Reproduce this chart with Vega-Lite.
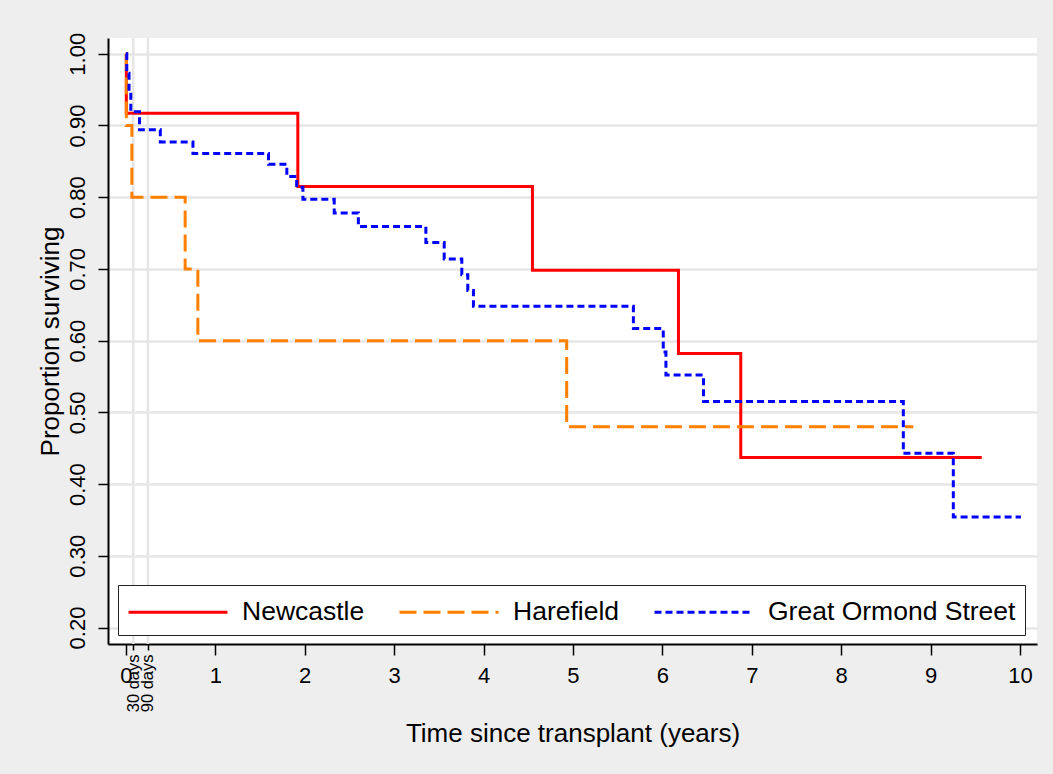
{
  "$schema": "https://vega.github.io/schema/vega-lite/v6.json",
  "autosize": {"type": "none"},
  "width": 929,
  "height": 606,
  "padding": {"left": 108, "top": 38, "right": 16, "bottom": 130},
  "background": "#eeeeee",
  "config": {
    "font": "Liberation Sans",
    "view": {"fill": "white", "stroke": null},
    "axis": {
      "domainColor": "#000000",
      "domainWidth": 2,
      "tickColor": "#000000",
      "tickWidth": 1.5,
      "labelColor": "#000000",
      "titleColor": "#000000",
      "titleFontWeight": "normal",
      "gridColor": "#e6e6e6",
      "gridWidth": 2.5
    },
    "legend": {
      "title": null,
      "orient": "none",
      "legendX": 10,
      "legendY": 547,
      "direction": "horizontal",
      "columns": 3,
      "symbolType": "M-1,0H5",
      "symbolSize": 1089,
      "symbolStrokeWidth": 3,
      "labelFontSize": 26.5,
      "labelColor": "#000000",
      "labelOffset": 79,
      "labelLimit": 400,
      "columnPadding": 28,
      "padding": 9,
      "fillColor": "white",
      "strokeColor": "#222222"
    }
  },
  "datasets": {
    "km": [
      {"t": 0, "s": 1.0, "centre": "Newcastle"},
      {"t": 0.005, "s": 0.917, "centre": "Newcastle"},
      {"t": 1.923, "s": 0.815, "centre": "Newcastle"},
      {"t": 4.547, "s": 0.698, "centre": "Newcastle"},
      {"t": 6.18, "s": 0.582, "centre": "Newcastle"},
      {"t": 6.877, "s": 0.437, "centre": "Newcastle"},
      {"t": 9.572, "s": 0.437, "centre": "Newcastle"},
      {"t": 0, "s": 1.0, "centre": "Harefield"},
      {"t": 0.005, "s": 0.9, "centre": "Harefield"},
      {"t": 0.067, "s": 0.8, "centre": "Harefield"},
      {"t": 0.663, "s": 0.7, "centre": "Harefield"},
      {"t": 0.805, "s": 0.6, "centre": "Harefield"},
      {"t": 4.93, "s": 0.48, "centre": "Harefield"},
      {"t": 8.807, "s": 0.48, "centre": "Harefield"},
      {"t": 0, "s": 1.0, "centre": "Great Ormond Street"},
      {"t": 0.01, "s": 0.973, "centre": "Great Ormond Street"},
      {"t": 0.035, "s": 0.946, "centre": "Great Ormond Street"},
      {"t": 0.055, "s": 0.919, "centre": "Great Ormond Street"},
      {"t": 0.152, "s": 0.894, "centre": "Great Ormond Street"},
      {"t": 0.385, "s": 0.877, "centre": "Great Ormond Street"},
      {"t": 0.75, "s": 0.861, "centre": "Great Ormond Street"},
      {"t": 1.595, "s": 0.846, "centre": "Great Ormond Street"},
      {"t": 1.8, "s": 0.829, "centre": "Great Ormond Street"},
      {"t": 1.91, "s": 0.814, "centre": "Great Ormond Street"},
      {"t": 1.98, "s": 0.797, "centre": "Great Ormond Street"},
      {"t": 2.33, "s": 0.778, "centre": "Great Ormond Street"},
      {"t": 2.6, "s": 0.759, "centre": "Great Ormond Street"},
      {"t": 3.355, "s": 0.737, "centre": "Great Ormond Street"},
      {"t": 3.56, "s": 0.714, "centre": "Great Ormond Street"},
      {"t": 3.757, "s": 0.692, "centre": "Great Ormond Street"},
      {"t": 3.824, "s": 0.67, "centre": "Great Ormond Street"},
      {"t": 3.887, "s": 0.648, "centre": "Great Ormond Street"},
      {"t": 5.676, "s": 0.617, "centre": "Great Ormond Street"},
      {"t": 6.01, "s": 0.584, "centre": "Great Ormond Street"},
      {"t": 6.04, "s": 0.552, "centre": "Great Ormond Street"},
      {"t": 6.46, "s": 0.515, "centre": "Great Ormond Street"},
      {"t": 8.695, "s": 0.443, "centre": "Great Ormond Street"},
      {"t": 9.254, "s": 0.354, "centre": "Great Ormond Street"},
      {"t": 10.01, "s": 0.354, "centre": "Great Ormond Street"}
    ],
    "marks30to90": [
      {"t": 0.0821, "label": "30 days"},
      {"t": 0.2464, "label": "90 days"}
    ]
  },
  "layer": [
    {
      "data": {"name": "marks30to90"},
      "mark": {"type": "rule", "color": "#e6e6e6", "strokeWidth": 2.5},
      "encoding": {
        "x": {
          "field": "t",
          "type": "quantitative",
          "scale": {"domain": [-0.2, 10.19], "nice": false, "zero": false},
          "axis": {
            "orient": "bottom",
            "title": null,
            "values": [0.0821, 0.2464],
            "labelExpr": "datum.value < 0.1 ? '30 days' : '90 days'",
            "labelAngle": 270,
            "labelAlign": "right",
            "labelBaseline": "middle",
            "labelFontSize": 16.5,
            "labelPadding": 4,
            "tickSize": 6,
            "grid": false,
            "domain": false,
            "labelOverlap": false,
            "labelFlush": false
          }
        }
      }
    },
    {
      "data": {"name": "km"},
      "mark": {"type": "line", "interpolate": "step-after", "strokeWidth": 3, "strokeCap": "butt"},
      "encoding": {
        "x": {
          "field": "t",
          "type": "quantitative",
          "scale": {"domain": [-0.2, 10.19], "nice": false, "zero": false},
          "axis": {
            "orient": "bottom",
            "title": "Time since transplant (years)",
            "titleFontSize": 26,
            "titlePadding": 34,
            "values": [0, 1, 2, 3, 4, 5, 6, 7, 8, 9, 10],
            "format": "d",
            "labelFontSize": 22,
            "labelPadding": 10,
            "tickSize": 11,
            "labelFlush": false,
            "labelOverlap": false
          }
        },
        "y": {
          "field": "s",
          "type": "quantitative",
          "scale": {"domain": [0.177, 1.022], "nice": false, "zero": false},
          "axis": {
            "title": "Proportion surviving",
            "titleFontSize": 26,
            "titlePadding": 3,
            "values": [0.2, 0.3, 0.4, 0.5, 0.6, 0.7, 0.8, 0.9, 1.0],
            "format": ".2f",
            "labelAngle": 270,
            "labelAlign": "center",
            "labelBaseline": "bottom",
            "labelFontSize": 22,
            "labelPadding": 9,
            "tickSize": 10,
            "labelFlush": false,
            "labelOverlap": false
          }
        },
        "color": {
          "field": "centre",
          "type": "nominal",
          "title": null,
          "scale": {
            "domain": ["Newcastle", "Harefield", "Great Ormond Street"],
            "range": ["#ff0000", "#ff8000", "#0000ff"]
          }
        },
        "strokeDash": {
          "field": "centre",
          "type": "nominal",
          "title": null,
          "scale": {
            "domain": ["Newcastle", "Harefield", "Great Ormond Street"],
            "range": [[1, 0], [17, 7], [7, 4]]
          }
        }
      }
    }
  ],
  "resolve": {"axis": {"x": "independent"}}
}
